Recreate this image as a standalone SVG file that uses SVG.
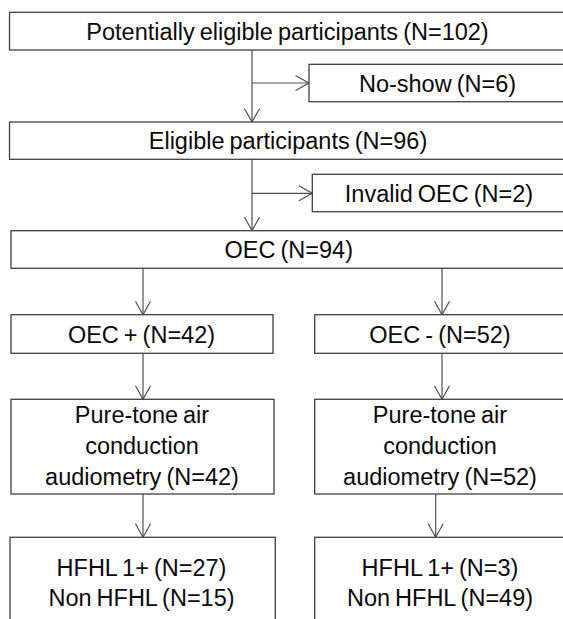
<svg xmlns="http://www.w3.org/2000/svg" width="563" height="619" viewBox="0 0 563 619">
<style>
.box{fill:#fff;stroke:#404040;stroke-width:1.3}
.t{font-family:"Liberation Sans",Arial,sans-serif;font-size:23.5px;word-spacing:-1.5px;fill:#0a0a0a;text-anchor:middle}
.c{fill:none;stroke:#505050;stroke-width:1.2}
</style>
<defs>
<marker id="ah" markerUnits="userSpaceOnUse" markerWidth="20" markerHeight="20" viewBox="-15 -10 20 20" refX="0" refY="0" orient="auto">
<path d="M-13.5,-7.5 L0,0 L-13.5,7.5" fill="none" stroke="#505050" stroke-width="1.2"/>
</marker>
</defs>
<rect width="563" height="619" fill="#fff"/>
<g id="connectors">
<line class="c" x1="252" y1="50" x2="252" y2="122" marker-end="url(#ah)"/>
<line class="c" x1="252" y1="83" x2="309" y2="83" marker-end="url(#ah)"/>
<line class="c" x1="252" y1="159.3" x2="252" y2="230.7" marker-end="url(#ah)"/>
<line class="c" x1="252" y1="193.3" x2="312.3" y2="193.3" marker-end="url(#ah)"/>
<line class="c" x1="143" y1="268.3" x2="143" y2="314.7" marker-end="url(#ah)"/>
<line class="c" x1="442" y1="268.3" x2="442" y2="314.7" marker-end="url(#ah)"/>
<line class="c" x1="143" y1="353.3" x2="143" y2="399.3" marker-end="url(#ah)"/>
<line class="c" x1="442" y1="353.3" x2="442" y2="399.3" marker-end="url(#ah)"/>
<line class="c" x1="143" y1="494" x2="143" y2="537.3" marker-end="url(#ah)"/>
<line class="c" x1="435.7" y1="494" x2="435.7" y2="537.3" marker-end="url(#ah)"/>
</g>
<g id="n1"><rect class="box" x="9.5" y="12.3" width="557" height="37.7"/><text class="t" x="287.5" y="39.5">Potentially eligible participants (N=102)</text></g>
<g id="n2"><rect class="box" x="309" y="64.3" width="258" height="37.4"/><text class="t" x="437.5" y="91.5">No-show (N=6)</text></g>
<g id="n3"><rect class="box" x="9.5" y="122" width="557" height="37.3"/><text class="t" x="288" y="149">Eligible participants (N=96)</text></g>
<g id="n4"><rect class="box" x="312.3" y="174.3" width="255" height="37.4"/><text class="t" x="439" y="201.5">Invalid OEC (N=2)</text></g>
<g id="n5"><rect class="box" x="11" y="230.7" width="556" height="37.6"/><text class="t" x="288.8" y="258">OEC (N=94)</text></g>
<g id="n6"><rect class="box" x="11" y="314.7" width="262" height="38.6"/><text class="t" x="141.5" y="342.5">OEC + (N=42)</text></g>
<g id="n7"><rect class="box" x="314.7" y="314.7" width="252" height="38.6"/><text class="t" x="440" y="342.5">OEC - (N=52)</text></g>
<g id="n8"><rect class="box" x="11" y="399.3" width="263" height="94.7"/><text class="t" x="142" y="423">Pure-tone air</text><text class="t" x="142" y="454">conduction</text><text class="t" x="142" y="485">audiometry (N=42)</text></g>
<g id="n9"><rect class="box" x="314.7" y="399.3" width="252" height="94.7"/><text class="t" x="440" y="423">Pure-tone air</text><text class="t" x="440" y="454">conduction</text><text class="t" x="440" y="485">audiometry (N=52)</text></g>
<g id="n10"><rect class="box" x="10" y="537.3" width="265.3" height="100"/><text class="t" x="141.5" y="576">HFHL 1+ (N=27)</text><text class="t" x="141.5" y="606">Non HFHL (N=15)</text></g>
<g id="n11"><rect class="box" x="314.7" y="537.3" width="252" height="100"/><text class="t" x="440" y="576">HFHL 1+ (N=3)</text><text class="t" x="440" y="606">Non HFHL (N=49)</text></g>
</svg>
